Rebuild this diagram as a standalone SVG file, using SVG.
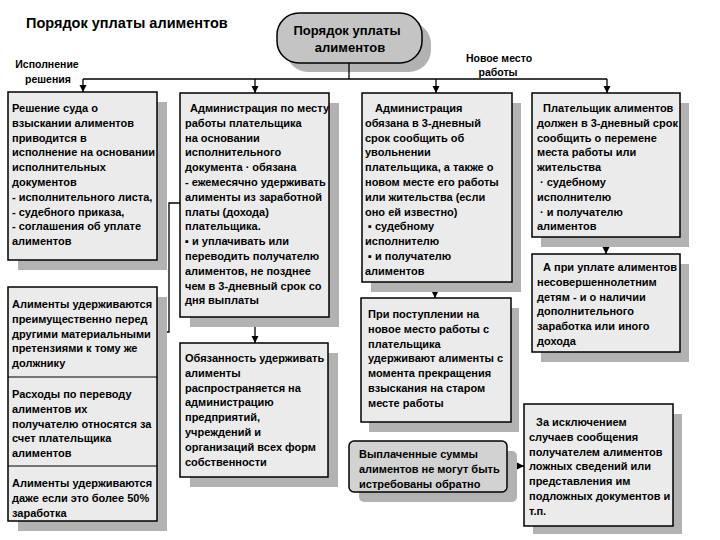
<svg xmlns="http://www.w3.org/2000/svg" width="720" height="540" viewBox="0 0 720 540">
<style>
.bg{fill:#fff}
.box{fill:#ebebeb;stroke:#000;stroke-width:1.5}
.sh{fill:#b2b2b2}
.oval{fill:#c4c4c4;stroke:#000;stroke-width:1.5}
.dark{fill:#d2d2d2;stroke:#000;stroke-width:1.5}
.t{font-family:"Liberation Sans",Arial,sans-serif;font-weight:bold;font-size:11px;fill:#000}
.lbl{font-family:"Liberation Sans",Arial,sans-serif;font-weight:bold;font-size:10.5px;fill:#000}
.ttl{font-family:"Liberation Sans",Arial,sans-serif;font-weight:bold;font-size:14.5px;fill:#000}
.ot{font-family:"Liberation Sans",Arial,sans-serif;font-weight:bold;font-size:13px;fill:#000}
.ln{fill:none;stroke:#000;stroke-width:1.3}
</style>
<defs>
<marker id="ah" markerUnits="userSpaceOnUse" markerWidth="8" markerHeight="8" refX="7" refY="4" orient="auto">
<path d="M0,0.5 L7,4 L0,7.5 z" fill="#000"/>
</marker>
</defs>
<rect class="bg" x="0" y="0" width="720" height="540"/>
<text class="ttl" x="26" y="28">Порядок уплаты алиментов</text>

<g id="root">
<rect class="sh" x="286" y="22" width="145" height="50" rx="22"/>
<rect class="oval" x="277" y="13" width="145" height="50" rx="22"/>
<text class="ot" text-anchor="middle" x="347" y="35">Порядок уплаты</text>
<text class="ot" text-anchor="middle" x="350" y="52">алиментов</text>
</g>

<g id="labels">
<text class="lbl" text-anchor="middle" x="47" y="68">Исполнение</text>
<text class="lbl" text-anchor="middle" x="48" y="83">решения</text>
<text class="lbl" text-anchor="middle" x="499" y="62">Новое место</text>
<text class="lbl" text-anchor="middle" x="498" y="76">работы</text>
</g>

<g id="connectors">
<path class="ln" d="M349,63 V79"/>
<path class="ln" d="M83,79 H607"/>
<path class="ln" d="M83,79 V92" marker-end="url(#ah)"/>
<path class="ln" d="M255,79 V93" marker-end="url(#ah)"/>
<path class="ln" d="M436,79 V93" marker-end="url(#ah)"/>
<path class="ln" d="M607,79 V93" marker-end="url(#ah)"/>
<path class="ln" d="M180,203 H169 V332 H158" marker-end="url(#ah)"/>
<path class="ln" d="M255,317 V343" marker-end="url(#ah)"/>
<path class="ln" d="M435,282 V298" marker-end="url(#ah)"/>
<path class="ln" d="M606,237 V254" marker-end="url(#ah)"/>
<path class="ln" d="M507,466 H524" marker-end="url(#ah)"/>
</g>

<g id="boxA">
<rect class="sh" x="18" y="102" width="149" height="168"/>
<rect class="box" x="8" y="92" width="149" height="168"/>
<text class="t" x="12" y="112">
<tspan x="12">Решение суда о</tspan>
<tspan x="12" dy="14.8">взыскании алиментов</tspan>
<tspan x="12" dy="14.8">приводится в</tspan>
<tspan x="12" dy="14.8">исполнение на основании</tspan>
<tspan x="12" dy="14.8">исполнительных</tspan>
<tspan x="12" dy="14.8">документов</tspan>
<tspan x="12" dy="14.8">- исполнительного листа,</tspan>
<tspan x="12" dy="14.8">- судебного приказа,</tspan>
<tspan x="12" dy="14.8">- соглашения об уплате</tspan>
<tspan x="12" dy="14.8">алиментов</tspan>
</text>
</g>

<g id="boxB">
<rect class="sh" x="190" y="103" width="149" height="224"/>
<rect class="box" x="180" y="93" width="149" height="224"/>
<text class="t" x="190" y="112">
<tspan x="190">Администрация по месту</tspan>
<tspan x="185" dy="14.8">работы плательщика</tspan>
<tspan x="185" dy="14.8">на основании</tspan>
<tspan x="185" dy="14.8">исполнительного</tspan>
<tspan x="185" dy="14.8">документа · обязана</tspan>
<tspan x="185" dy="14.8">- ежемесячно удерживать</tspan>
<tspan x="185" dy="14.8">алименты из заработной</tspan>
<tspan x="185" dy="14.8">платы (дохода)</tspan>
<tspan x="185" dy="14.8">плательщика.</tspan>
<tspan x="185" dy="14.8">▪  и уплачивать или</tspan>
<tspan x="185" dy="14.8">переводить получателю</tspan>
<tspan x="185" dy="14.8">алиментов, не позднее</tspan>
<tspan x="185" dy="14.8">чем в 3-дневный срок со</tspan>
<tspan x="185" dy="14.8">дня выплаты</tspan>
</text>
</g>

<g id="boxC">
<rect class="sh" x="371" y="103" width="150" height="189"/>
<rect class="box" x="362" y="93" width="150" height="189"/>
<text class="t" x="375" y="112">
<tspan x="375">Администрация</tspan>
<tspan x="365" dy="14.8">обязана в 3-дневный</tspan>
<tspan x="365" dy="14.8">срок сообщить об</tspan>
<tspan x="365" dy="14.8">увольнении</tspan>
<tspan x="365" dy="14.8">плательщика, а также о</tspan>
<tspan x="365" dy="14.8">новом месте его работы</tspan>
<tspan x="365" dy="14.8">или жительства (если</tspan>
<tspan x="365" dy="14.8">оно ей известно)</tspan>
<tspan x="368" dy="14.8">▪ судебному</tspan>
<tspan x="365" dy="14.8">исполнителю</tspan>
<tspan x="368" dy="14.8">▪ и получателю</tspan>
<tspan x="365" dy="14.8">алиментов</tspan>
</text>
</g>

<g id="boxD">
<rect class="sh" x="541" y="103" width="148" height="144"/>
<rect class="box" x="532" y="93" width="148" height="144"/>
<text class="t" x="543" y="112">
<tspan x="543">Плательщик алиментов</tspan>
<tspan x="537" dy="14.8">должен в 3-дневный срок</tspan>
<tspan x="537" dy="14.8">сообщить о перемене</tspan>
<tspan x="537" dy="14.8">места работы или</tspan>
<tspan x="537" dy="14.8">жительства</tspan>
<tspan x="540" dy="14.8">· судебному</tspan>
<tspan x="537" dy="14.8">исполнителю</tspan>
<tspan x="540" dy="14.8">· и получателю</tspan>
<tspan x="537" dy="14.8">алиментов</tspan>
</text>
</g>

<g id="boxE">
<rect class="sh" x="541" y="264" width="148" height="98"/>
<rect class="box" x="532" y="254" width="148" height="98"/>
<text class="t" x="543" y="271">
<tspan x="543">А при уплате алиментов</tspan>
<tspan x="537" dy="14.8">несовершеннолетним</tspan>
<tspan x="537" dy="14.8">детям - и о наличии</tspan>
<tspan x="537" dy="14.8">дополнительного</tspan>
<tspan x="537" dy="14.8">заработка или иного</tspan>
<tspan x="537" dy="14.8">дохода</tspan>
</text>
</g>

<g id="boxLeft">
<rect class="sh" x="18" y="297" width="149" height="234"/>
<rect class="box" x="8" y="287" width="149" height="234"/>
<path class="ln" d="M8,377 H157 M8,466 H157" style="stroke-width:1.2"/>
<text class="t" x="12" y="308">
<tspan x="12">Алименты удерживаются</tspan>
<tspan x="12" dy="14.8">преимущественно перед</tspan>
<tspan x="12" dy="14.8">другими материальными</tspan>
<tspan x="12" dy="14.8">претензиями к тому же</tspan>
<tspan x="12" dy="14.8">должнику</tspan>
</text>
<text class="t" x="12" y="398">
<tspan x="12">Расходы по переводу</tspan>
<tspan x="12" dy="14.8">алиментов их</tspan>
<tspan x="12" dy="14.8">получателю относятся за</tspan>
<tspan x="12" dy="14.8">счет плательщика</tspan>
<tspan x="12" dy="14.8">алиментов</tspan>
</text>
<text class="t" x="12" y="487">
<tspan x="12">Алименты удерживаются</tspan>
<tspan x="12" dy="14.8">даже если это более 50%</tspan>
<tspan x="12" dy="14.8">заработка</tspan>
</text>
</g>

<g id="boxF">
<rect class="sh" x="190" y="353" width="148" height="134"/>
<rect class="box" x="180" y="343" width="148" height="134"/>
<text class="t" x="185" y="362">
<tspan x="185">Обязанность удерживать</tspan>
<tspan x="185" dy="14.8">алименты</tspan>
<tspan x="185" dy="14.8">распространяется на</tspan>
<tspan x="185" dy="14.8">администрацию</tspan>
<tspan x="185" dy="14.8">предприятий,</tspan>
<tspan x="185" dy="14.8">учреждений и</tspan>
<tspan x="185" dy="14.8">организаций всех форм</tspan>
<tspan x="185" dy="14.8">собственности</tspan>
</text>
</g>

<g id="boxG">
<rect class="sh" x="369" y="308" width="150" height="124"/>
<rect class="box" x="361" y="298" width="150" height="124"/>
<text class="t" x="368" y="318">
<tspan x="368">При поступлении на</tspan>
<tspan x="368" dy="14.8">новое место работы с</tspan>
<tspan x="368" dy="14.8">плательщика</tspan>
<tspan x="368" dy="14.8">удерживают алименты с</tspan>
<tspan x="368" dy="14.8">момента прекращения</tspan>
<tspan x="368" dy="14.8">взыскания на старом</tspan>
<tspan x="368" dy="14.8">месте работы</tspan>
</text>
</g>

<g id="boxH">
<rect class="sh" x="359" y="451" width="158" height="51" rx="5"/>
<rect class="dark" x="349" y="441" width="158" height="51" rx="5"/>
<text class="t" x="359" y="458">
<tspan x="359">Выплаченные суммы</tspan>
<tspan x="359" dy="14.8">алиментов не могут быть</tspan>
<tspan x="359" dy="14.8">истребованы обратно</tspan>
</text>
</g>

<g id="boxI">
<rect class="sh" x="533" y="414" width="149" height="120"/>
<rect class="box" x="524" y="404" width="149" height="122"/>
<text class="t" x="536" y="426">
<tspan x="536">За исключением</tspan>
<tspan x="529" dy="14.8">случаев  сообщения</tspan>
<tspan x="529" dy="14.8">получателем алиментов</tspan>
<tspan x="529" dy="14.8">ложных сведений или</tspan>
<tspan x="529" dy="14.8">представления им</tspan>
<tspan x="529" dy="14.8">подложных документов и</tspan>
<tspan x="529" dy="14.8">т.п.</tspan>
</text>
</g>
</svg>
